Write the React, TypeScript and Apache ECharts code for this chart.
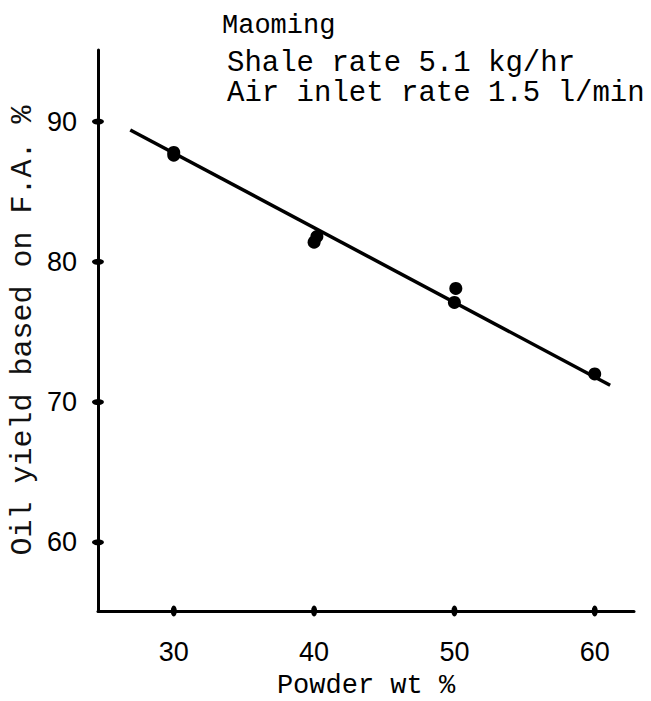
import React, { useEffect, useRef } from "react";
import * as echarts from "echarts";

const xTicks = [30, 40, 50, 60];
const yTicks = [60, 70, 80, 90];
const xRange = [24.6, 62.8];
const yRange = [55.1, 95.1];
const measured: [number, number][] = [
  [30, 87.6],
  [30, 87.8],
  [40, 81.4],
  [40.2, 81.8],
  [50, 77.1],
  [50.1, 78.1],
  [60, 72.0],
];
const fitLine: [number, number][] = [
  [26.9, 89.4],
  [61.1, 71.2],
];
const xTitle = "Powder wt %";
const yTitle = "Oil yield based on F.A. %";
const notes = ["Maoming", "Shale rate 5.1 kg/hr", "Air inlet rate 1.5 l/min"];

const MONO = "'Liberation Mono', 'DejaVu Sans Mono', monospace";
const SANS = "'Liberation Sans', Arial, sans-serif";

export default function App() {
  const ref = useRef<HTMLDivElement>(null);
  useEffect(() => {
    if (!ref.current) return;
    const chart = echarts.init(ref.current, null, { renderer: "svg" });
    chart.setOption({
      animation: false,
      backgroundColor: "#fff",
      grid: {
        left: 98,
        right: 17,
        top: 50,
        bottom: 90,
        containLabel: false,
        outerBoundsMode: "none",
      },
      xAxis: {
        type: "value",
        min: xRange[0],
        max: xRange[1],
        name: xTitle,
        nameLocation: "middle",
        nameGap: 65,
        nameMoveOverlap: false,
        nameTextStyle: { fontFamily: MONO, fontSize: 27, lineHeight: 20, color: "#000" },
        axisLine: { show: true, lineStyle: { color: "#000", width: 3 } },
        axisTick: { show: false },
        splitLine: { show: false },
        axisLabel: {
          customValues: xTicks,
          margin: 27,
          fontFamily: SANS,
          fontSize: 27,
          color: "#000",
        },
      },
      yAxis: {
        type: "value",
        min: yRange[0],
        max: yRange[1],
        name: yTitle,
        nameLocation: "middle",
        nameGap: 60,
        nameMoveOverlap: false,
        nameTextStyle: { fontFamily: MONO, fontSize: 30, color: "#111" },
        axisLine: { show: true, lineStyle: { color: "#000", width: 3 } },
        axisTick: { show: false },
        splitLine: { show: false },
        axisLabel: {
          customValues: yTicks,
          margin: 21,
          fontFamily: SANS,
          fontSize: 27,
          color: "#000",
        },
      },
      graphic: [
        {
          type: "text",
          left: 222,
          top: 12,
          style: { text: notes[0], font: `27px ${MONO}`, lineHeight: 24, fill: "#000" },
        },
        {
          type: "text",
          left: 227,
          top: 49,
          style: { text: notes[1], font: `29px ${MONO}`, lineHeight: 24, fill: "#000" },
        },
        {
          type: "text",
          left: 227,
          top: 79,
          style: { text: notes[2], font: `29px ${MONO}`, lineHeight: 24, fill: "#000" },
        },
      ],
      series: [
        {
          type: "line",
          data: fitLine,
          showSymbol: false,
          lineStyle: { color: "#000", width: 3.5 },
          z: 2,
        },
        {
          type: "scatter",
          data: measured,
          symbol: "circle",
          symbolSize: 13,
          itemStyle: { color: "#000", opacity: 1 },
          z: 3,
        },
        {
          type: "scatter",
          data: yTicks.map((v) => [xRange[0], v]),
          symbol: "circle",
          symbolSize: [12, 6],
          itemStyle: { color: "#000", opacity: 1 },
          clip: false,
          z: 4,
        },
        {
          type: "scatter",
          data: xTicks.map((v) => [v, yRange[0]]),
          symbol: "circle",
          symbolSize: [6, 11],
          itemStyle: { color: "#000", opacity: 1 },
          clip: false,
          z: 4,
        },
      ],
    });
    return () => chart.dispose();
  }, []);
  return (
    <div
      ref={ref}
      style={{ position: "fixed", left: 0, top: 0, width: 651, height: 701 }}
    />
  );
}
